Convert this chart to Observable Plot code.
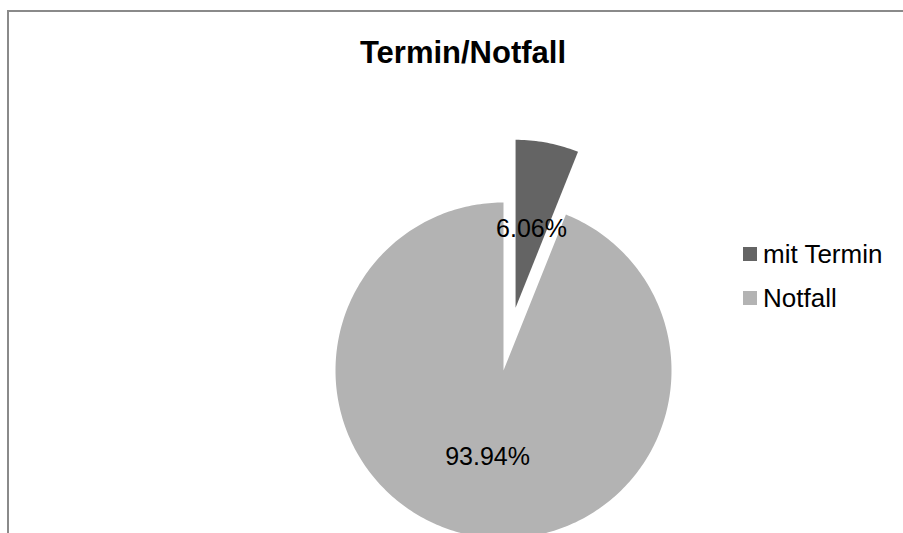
<!DOCTYPE html>
<html>
<head>
<meta charset="utf-8">
<script src="https://cdn.jsdelivr.net/npm/d3@7"></script>
<script src="https://cdn.jsdelivr.net/npm/@observablehq/plot@0.6"></script>
<style>
  html, body { margin: 0; padding: 0; background: #fff; overflow: hidden; }
  #wrap { position: relative; width: 903px; height: 533px; overflow: hidden; font-family: Arial, "Liberation Sans", sans-serif; }
  #frame { position: absolute; left: 7px; top: 10px; width: 1000px; height: 1000px; border: 2px solid #8a8a8a; box-sizing: border-box; }
  #title { position: absolute; left: 0; width: 926px; top: 35px; text-align: center; font-weight: bold; font-size: 31px; color: #000; line-height: 36px; }
  #legend { position: absolute; left: 743px; top: 232px; font-size: 26px; color: #000; }
  .item { display: flex; align-items: center; height: 44px; }
  .sw { width: 14px; height: 14px; margin-right: 6px; }
  #chart { position: absolute; left: 0; top: 0; }
</style>
</head>
<body>
<div id="wrap">
  <div id="frame"></div>
  <div id="chart"></div>
  <div id="title"></div>
  <div id="legend"></div>
</div>
<script>
const title = "Termin/Notfall";
const categories = ["mit Termin", "Notfall"];
const values = [6.06, 93.94];
const labels = ["6.06%", "93.94%"];
const colors = ["#646464", "#b3b3b3"];
const explode = [0.38, 0]; // fraction of radius

const W = 903, H = 533, R = 168, CX = 503, CY = 370;

const pie = d3.pie().sort(null).value(d => d.value)(
  categories.map((c, i) => ({ category: c, value: values[i], label: labels[i], explode: explode[i] }))
);

const polys = [];
const labelPts = [];
for (const s of pie) {
  const mid = (s.startAngle + s.endAngle) / 2;
  const ox = Math.sin(mid) * s.data.explode;
  const oy = Math.cos(mid) * s.data.explode;
  const n = Math.max(4, Math.ceil((s.endAngle - s.startAngle) / (Math.PI * 2) * 360));
  polys.push({ category: s.data.category, x: ox, y: oy });
  for (let k = 0; k <= n; k++) {
    const a = s.startAngle + (s.endAngle - s.startAngle) * k / n;
    polys.push({ category: s.data.category, x: ox + Math.sin(a), y: oy + Math.cos(a) });
  }
  polys.push({ category: s.data.category, x: ox, y: oy });
  labelPts.push({ label: s.data.label, x: ox + Math.sin(mid) * 0.5, y: oy + Math.cos(mid) * 0.5 });
}

const plot = Plot.plot({
  width: W,
  height: H,
  margin: 0,
  x: { domain: [-CX / R, (W - CX) / R], range: [0, W], axis: null },
  y: { domain: [-(H - CY) / R, CY / R], range: [H, 0], axis: null },
  color: { domain: categories, range: colors },
  style: { background: "transparent", fontFamily: "Arial, 'Liberation Sans', sans-serif" },
  marks: [
    Plot.line(polys, { x: "x", y: "y", z: "category", fill: "category", stroke: null, curve: "linear" }),
    Plot.text(labelPts, { x: "x", y: "y", text: "label", fontSize: 25, fill: "#000", textAnchor: "middle", lineAnchor: "middle", dy: 4 })
  ]
});
document.getElementById("chart").appendChild(plot);
document.getElementById("title").textContent = title;

const leg = document.getElementById("legend");
categories.forEach((c, i) => {
  const it = document.createElement("div");
  it.className = "item";
  const sw = document.createElement("div");
  sw.className = "sw";
  sw.style.background = colors[i];
  const tx = document.createElement("span");
  tx.textContent = c;
  it.appendChild(sw);
  it.appendChild(tx);
  leg.appendChild(it);
});
</script>
</body>
</html>
